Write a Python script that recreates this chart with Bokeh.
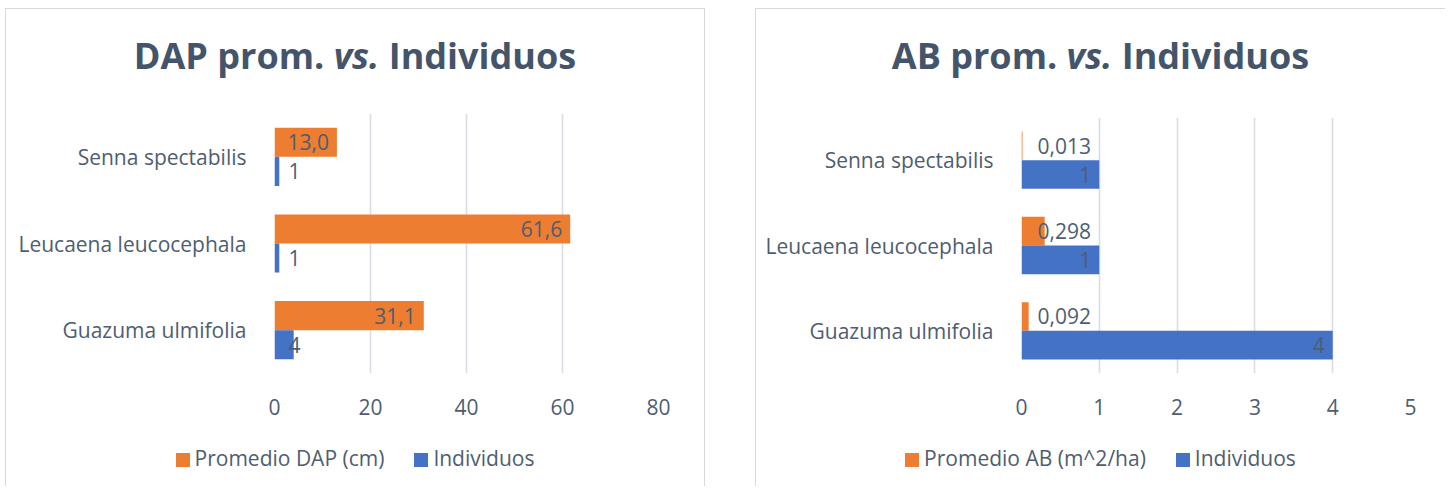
from bokeh.plotting import figure
from bokeh.models import Range1d, FactorRange, FixedTicker, ColumnDataSource, Div
from bokeh.transform import dodge
from bokeh.layouts import row, column
from bokeh.core.properties import value
from bokeh.embed import file_html
from bokeh.resources import INLINE

# ---------------- data ----------------
species = ["Guazuma ulmifolia", "Leucaena leucocephala", "Senna spectabilis"]
dap_prom = [31.1, 61.6, 13.0]          # Promedio DAP (cm)
ab_prom = [0.092, 0.298, 0.013]        # Promedio AB (m^2/ha)
individuos = [4, 1, 1]                 # Individuos
dap_ticks = [0, 20, 40, 60, 80]
ab_ticks = [0, 1, 2, 3, 4, 5]
titles = [("DAP prom.", "vs.", "Individuos"), ("AB prom.", "vs.", "Individuos")]
series_names = [("Promedio DAP (cm)", "Individuos"), ("Promedio AB (m^2/ha)", "Individuos")]

ORANGE = "#ED7D31"
BLUE = "#4472C4"
TEXT = "#4f5d70"
TITLE = "#44546A"
GRID = "#dadee4"
FONT = "Open Sans"
FS = "21px"
BORDER = "1px solid #d9d9d9"


def fmt(v, nd):
    return f"{v:.{nd}f}".replace(".", ",")


def title_div(parts, width):
    html = (f"<div style=\"font-family:'{FONT}';font-size:36px;font-weight:bold;"
            f"color:{TITLE};text-align:center;line-height:46px;padding-top:24px;"
            f"width:{width}px;white-space:nowrap;\">"
            f"{parts[0]} <i>{parts[1]}</i> {parts[2]}</div>")
    return Div(text=html, width=width, height=84, margin=0)


def legend_div(names, width):
    sq = "display:inline-block;width:14px;height:14px;vertical-align:-1px;margin-right:5px;"
    html = (f"<div style=\"font-family:'{FONT}';font-size:{FS};color:{TEXT};"
            f"text-align:center;line-height:36px;width:{width}px;white-space:nowrap;\">"
            f"<span style=\"{sq}background:{ORANGE};\"></span>{names[0]}"
            f"<span style=\"display:inline-block;width:30px;\"></span>"
            f"<span style=\"{sq}background:{BLUE};\"></span>{names[1]}</div>")
    return Div(text=html, width=width, height=46, margin=0)


def make_chart(avg_vals, avg_nd, ticks, width, fl, fw, ft, fh, fb,
               avg_lbl_inside, ind_lbl_inside):
    fr = width - fl - fw
    height = ft + fh + fb
    p = figure(width=width, height=height, output_backend="svg", toolbar_location=None,
               x_range=Range1d(ticks[0], ticks[-1]),
               y_range=FactorRange(factors=species, range_padding=0),
               min_border_left=fl, min_border_right=fr, min_border_top=ft,
               min_border_bottom=fb, margin=0)
    p.outline_line_color = None
    p.background_fill_color = "white"
    p.border_fill_color = "white"

    src = ColumnDataSource(dict(
        species=species, avg=avg_vals, ind=individuos,
        avg_lbl=[fmt(v, avg_nd) for v in avg_vals],
        ind_lbl=[str(v) for v in individuos]))

    p.hbar(y=dodge("species", 0.168, range=p.y_range), left=0, right="avg",
           height=0.336, color=ORANGE, line_color=None, source=src)
    p.hbar(y=dodge("species", -0.168, range=p.y_range), left=0, right="ind",
           height=0.336, color=BLUE, line_color=None, source=src)

    common = dict(text_font=value(FONT), text_font_size=FS, text_color=TEXT,
                  text_baseline="middle", source=src)
    if avg_lbl_inside:
        p.text(x="avg", y=dodge("species", 0.168, range=p.y_range), text="avg_lbl",
               text_align="right", x_offset=-8, **common)
    else:
        p.text(x=0, y=dodge("species", 0.168, range=p.y_range), text="avg_lbl",
               text_align="left", x_offset=16, **common)
    if ind_lbl_inside:
        p.text(x="ind", y=dodge("species", -0.168, range=p.y_range), text="ind_lbl",
               text_align="right", x_offset=-8, **common)
    else:
        p.text(x=0, y=dodge("species", -0.168, range=p.y_range), text="ind_lbl",
               text_align="left", x_offset=14, **common)

    p.xaxis.ticker = FixedTicker(ticks=ticks)
    p.xgrid.ticker = FixedTicker(ticks=ticks)
    p.ygrid.grid_line_color = None
    p.xgrid.grid_line_color = GRID
    p.xgrid.grid_line_width = 1.6
    for ax in (p.xaxis, p.yaxis):
        ax.axis_line_color = None
        ax.major_tick_line_color = None
        ax.minor_tick_line_color = None
        ax.major_label_text_font = FONT
        ax.major_label_text_font_size = FS
        ax.major_label_text_color = TEXT
    p.xaxis.major_label_standoff = 19
    p.yaxis.major_label_standoff = 22
    return p


W1, W2 = 698, 689
p1 = make_chart(dap_prom, 1, dap_ticks, W1, 268, 384, 20, 260, 67, True, False)
p2 = make_chart(ab_prom, 3, ab_ticks, W2, 265, 389, 24, 256, 67, False, True)

c1 = column(title_div(titles[0], W1), p1, legend_div(series_names[0], W1),
            styles={"border-top": BORDER, "border-left": BORDER, "border-right": BORDER})
c2 = column(title_div(titles[1], W2), p2, legend_div(series_names[1], W2),
            styles={"border-top": BORDER, "border-left": BORDER})

layout = row(c1, c2, spacing=50, margin=(8, 0, 0, 5))
open("out.html", "w").write(file_html(layout, INLINE))
